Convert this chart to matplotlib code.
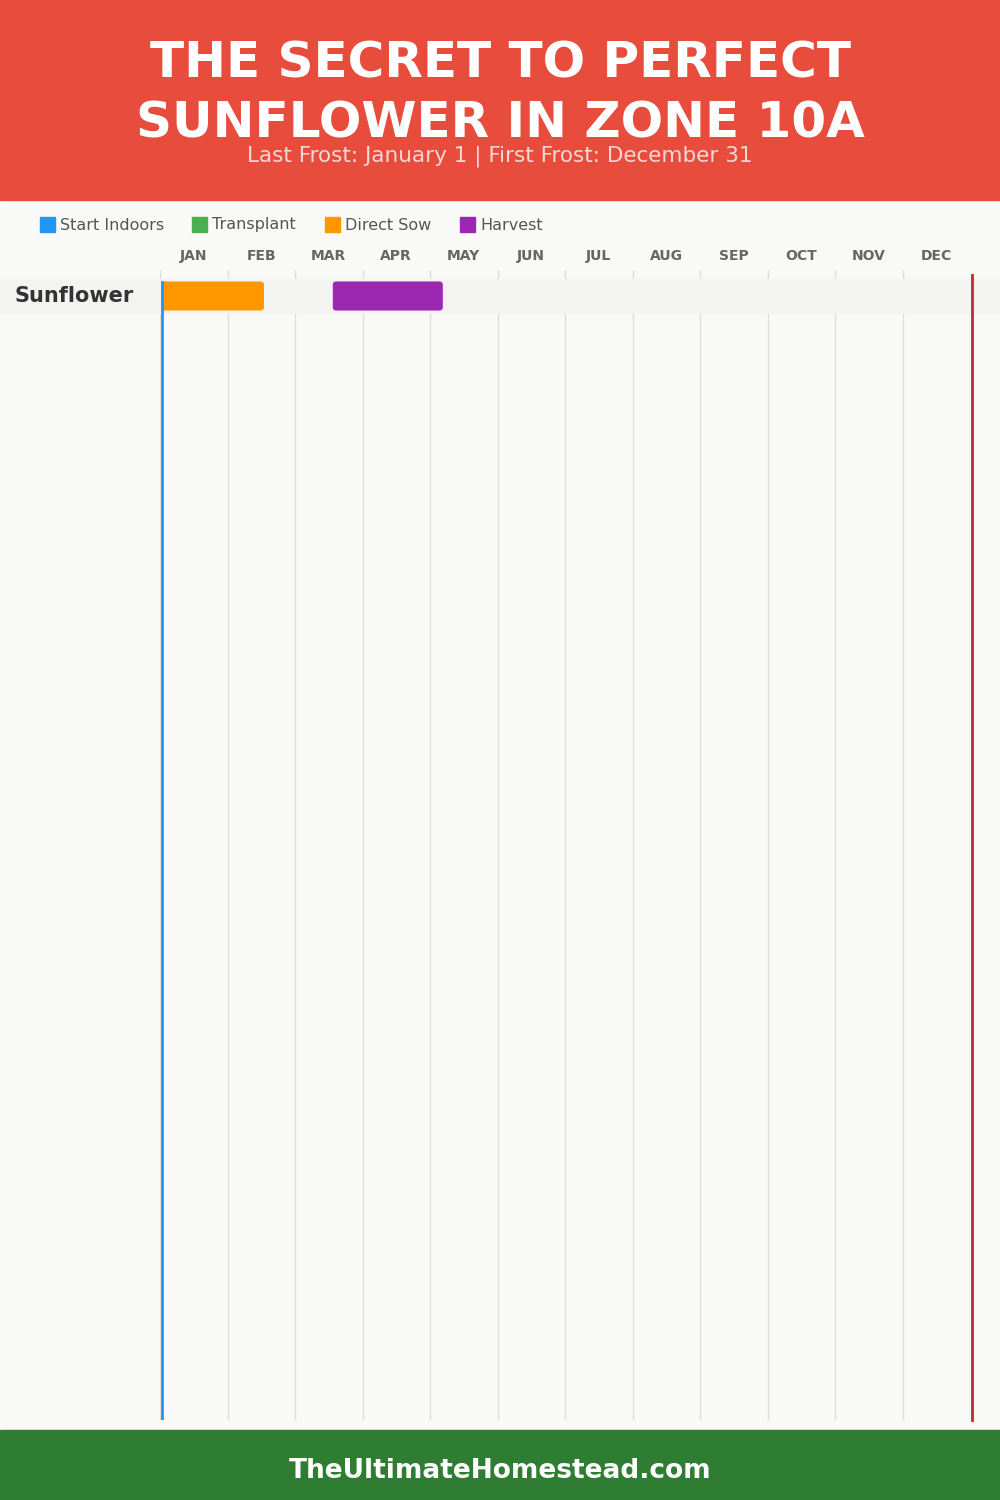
import matplotlib.pyplot as plt
from matplotlib.patches import Rectangle, FancyBboxPatch
from matplotlib.transforms import blended_transform_factory

# chart data (x positions in months, 0 = Jan 1, 12 = Dec 31)
months = ['JAN', 'FEB', 'MAR', 'APR', 'MAY', 'JUN', 'JUL', 'AUG', 'SEP', 'OCT', 'NOV', 'DEC']
crops = ['Sunflower']
# (crop index, start, end, activity)
tasks = [(0, 0.02, 1.54, 'Direct Sow'), (0, 2.56, 4.19, 'Harvest')]
last_frost = 0.03
first_frost = 12.03

legend_labels = ['Start Indoors', 'Transplant', 'Direct Sow', 'Harvest']
legend_colors = ['#2196f3', '#4caf50', '#ff9800', '#9c27b0']
colors = dict(zip(legend_labels, legend_colors))

W, H = 1000, 1500
fig = plt.figure(figsize=(W / 100, H / 100), dpi=100, facecolor='#f9f9f7')

def fx(px):
    return px / W

def fy(py):
    return 1 - py / H

# header and footer
fig.patches.append(Rectangle((0, fy(200)), 1, 200 / H, transform=fig.transFigure,
                             color='#e74c3c', zorder=0))
fig.patches.append(Rectangle((0, 0), 1, 70 / H, transform=fig.transFigure,
                             color='#2e7d32', zorder=0))
title_font = dict(family='DejaVu Sans', weight='heavy', color='white', ha='center', va='center')
fig.text(0.5, fy(63), 'THE SECRET TO PERFECT', fontsize=36, **title_font)
fig.text(0.5, fy(123), 'SUNFLOWER IN ZONE 10A', fontsize=36, **title_font)
fig.text(0.5, fy(156), 'Last Frost: January 1 | First Frost: December 31', fontsize=15.5,
         color='#f3d9d6', ha='center', va='center', family='DejaVu Sans')
fig.text(0.5, fy(1471), 'TheUltimateHomestead.com', fontsize=19, weight='bold',
         color='white', ha='center', va='center', family='DejaVu Sans')

# legend
lx = [40, 192, 325, 460]
for x, lab, c in zip(lx, legend_labels, legend_colors):
    fig.patches.append(Rectangle((fx(x), fy(232)), 15 / W, 15 / H,
                                 transform=fig.transFigure, color=c))
    fig.text(fx(x + 20), fy(225), lab, fontsize=11.5, color='#555555',
             va='center', ha='left', family='DejaVu Sans')

# chart axes
ax = fig.add_axes([fx(160), fy(1420), 810 / W, 1150 / H])
ax.set_zorder(2)
ax.patch.set_alpha(0)
row_px = 34
ax.set_xlim(0, 12)
ax.set_ylim((1420 - 296) / row_px, -(296 - 270) / row_px)
for s in ax.spines.values():
    s.set_visible(False)

ax.xaxis.tick_top()
ax.set_xticks([m + 0.5 for m in range(12)])
ax.set_xticklabels(months, fontsize=10, weight='bold', color='#666666', family='DejaVu Sans')
ax.tick_params(axis='x', length=0, pad=5)
ax.set_xticks(range(13), minor=True)
ax.tick_params(axis='x', which='minor', length=0)
ax.grid(True, which='minor', axis='x', color='#dddddd', linewidth=1, zorder=1)
ax.set_yticks([])

# row bands and crop names
band_tr = blended_transform_factory(fig.transFigure, ax.transData)
for i, crop in enumerate(crops):
    ax.add_patch(Rectangle((0, i - 0.5), 1, 1, transform=band_tr, color='#f3f3f2',
                           zorder=2, clip_on=False))
    ax.text(fx(15), i, crop, transform=band_tr, fontsize=15, weight='bold',
            color='#333333', va='center', ha='left', family='DejaVu Sans')

units_per_px = 12 / 810
aspect = (1 / row_px) / units_per_px
for row, start, end, act in tasks:
    h = 29 / row_px
    box = FancyBboxPatch((start, row - h / 2), end - start, h,
                         boxstyle='round,pad=0,rounding_size=%f' % (3 * units_per_px),
                         mutation_aspect=aspect, facecolor=colors[act],
                         edgecolor='none', zorder=3)
    ax.add_patch(box)

ax.axvline(last_frost, ymin=0, ymax=1 - 12 / 1150, color='#2196f3', linewidth=2, zorder=4)
ax.axvline(first_frost, ymin=0, ymax=1 - 5 / 1150, color='#c62828', linewidth=2,
           zorder=4, clip_on=False)

fig.savefig('out.png', dpi=100, facecolor=fig.get_facecolor())
